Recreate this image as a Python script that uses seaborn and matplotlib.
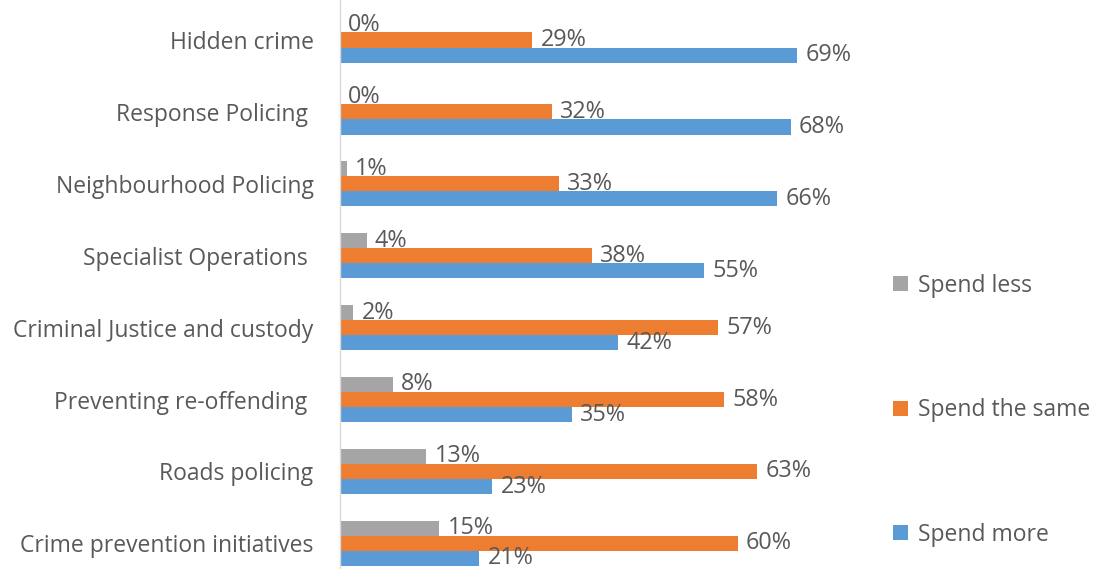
import matplotlib
matplotlib.use("Agg")
import matplotlib.pyplot as plt
import seaborn as sns
import pandas as pd

categories = [
    "Hidden crime",
    "Response Policing ",
    "Neighbourhood Policing",
    "Specialist Operations ",
    "Criminal Justice and custody",
    "Preventing re-offending ",
    "Roads policing",
    "Crime prevention initiatives",
]
series = ["Spend less", "Spend the same", "Spend more"]
spend_less = [0, 0, 1, 4, 2, 8, 13, 15]
spend_same = [29, 32, 33, 38, 57, 58, 63, 60]
spend_more = [69, 68, 66, 55, 42, 35, 23, 21]
colors = ["#A5A5A5", "#ED7D31", "#5B9BD5"]

rows = []
for name, vals in zip(series, [spend_less, spend_same, spend_more]):
    for cat, v in zip(categories, vals):
        rows.append({"category": cat, "series": name, "value": v})
df = pd.DataFrame(rows)

sns.set_theme(style="white")
text_color = "#595959"
plt.rcParams["font.family"] = ["Open Sans", "DejaVu Sans"]

fig = plt.figure(figsize=(10.94, 5.69), dpi=100)
ax = fig.add_axes([340 / 1094, 0.0, 530 / 1094, 1.0])

sns.barplot(
    data=df, y="category", x="value", hue="series",
    order=categories, hue_order=series, palette=colors,
    orient="h", width=0.63, dodge=True, ax=ax, saturation=1,
    edgecolor="none", linewidth=0,
)

for container in ax.containers:
    ax.bar_label(container, fmt="%g%%", padding=6, fontsize=16.8,
                 color=text_color)

ax.set_xlim(0, 80)
ax.set_ylim(7.357, -0.556)
ax.set_xlabel("")
ax.set_ylabel("")
ax.set_xticks([])
ax.tick_params(axis="y", length=0, pad=19, labelsize=16.5, labelcolor=text_color)
for side in ["top", "right", "bottom"]:
    ax.spines[side].set_visible(False)
ax.spines["left"].set_color("#D9D9D9")
ax.spines["left"].set_linewidth(1.0)

handles, labels = ax.get_legend_handles_labels()
ax.legend(
    handles, labels, loc="center left", bbox_to_anchor=(544 / 530, 0.279),
    frameon=False, fontsize=16.5, labelcolor=text_color,
    handlelength=0.65, handleheight=0.65, handletextpad=0.45,
    labelspacing=4.39, borderaxespad=0,
)

fig.savefig("out.png", dpi=100)
